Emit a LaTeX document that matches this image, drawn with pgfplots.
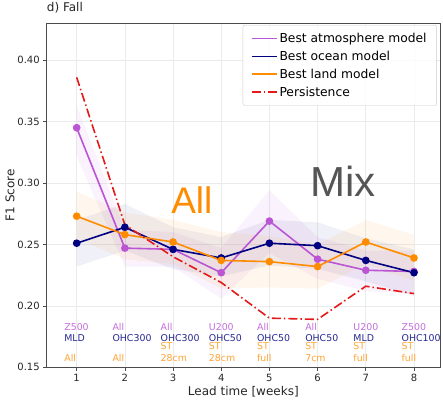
\documentclass[border=0pt]{standalone}
\usepackage{pgfplots}
\pgfplotsset{compat=1.18}
\usepackage{pgfplotstable}
\usepgfplotslibrary{fillbetween}
\usepackage{fontspec}
\setmainfont{DejaVu Sans}
\newfontfamily\bigfont{Liberation Sans}
\definecolor{atm}{RGB}{186,85,211}
\definecolor{oce}{RGB}{0,0,128}
\definecolor{lnd}{RGB}{255,140,0}
\definecolor{pers}{RGB}{230,25,25}
\definecolor{mixgray}{RGB}{85,85,85}
\tikzset{lab/.style={anchor=base west, inner sep=0pt, font=\fontsize{9.4bp}{11bp}\selectfont}}

\pgfplotstableread{
x atm atmlo atmhi oce ocelo ocehi lnd lndlo lndhi pers
1 0.345 0.322 0.363 0.251 0.232 0.270 0.273 0.255 0.293 0.386
2 0.247 0.232 0.262 0.264 0.245 0.283 0.258 0.238 0.276 0.266
3 0.246 0.232 0.260 0.246 0.230 0.264 0.252 0.234 0.270 0.240
4 0.227 0.206 0.247 0.239 0.224 0.256 0.237 0.214 0.260 0.219
5 0.269 0.243 0.294 0.251 0.233 0.270 0.236 0.215 0.257 0.190
6 0.238 0.222 0.256 0.249 0.230 0.268 0.232 0.214 0.250 0.189
7 0.229 0.212 0.245 0.237 0.220 0.255 0.252 0.234 0.270 0.216
8 0.228 0.210 0.245 0.227 0.208 0.246 0.239 0.220 0.258 0.210
}\data

\begin{document}
\begin{tikzpicture}
\begin{axis}[
  scale only axis, width=393.3bp, height=344bp,
  xmin=0.378, xmax=8.54, ymin=0.15, ymax=0.43,
  xtick={1,2,3,4,5,6,7,8},
  ytick={0.15,0.2,0.25,0.3,0.35,0.4},
  yticklabel style={/pgf/number format/.cd, fixed, fixed zerofill, precision=2},
  /pgf/number format/assume math mode=true,
  tick label style={font=\fontsize{10bp}{12bp}\selectfont, text=black!85},
  xtick pos=lower, ytick pos=left,
  tick align=outside, major tick length=3.5bp,
  tick style={black!70, line width=0.6bp},
  axis line style={black!70, line width=0.6bp},
  grid=major, grid style={black!8, line width=0.6bp},
  xlabel={Lead time [weeks]},
  ylabel={F1 Score},
  label style={font=\fontsize{12bp}{14bp}\selectfont, text=black!85},
  xlabel style={at={(rel axis cs:0.5,0)}, anchor=base, inner sep=0pt, yshift=-28bp},
  ylabel style={at={([xshift=-32bp]rel axis cs:0,0.5)}, anchor=south, inner sep=0pt, rotate=0},
  title={d) Fall},
  title style={at={(rel axis cs:0,1)}, anchor=base west, inner sep=0pt, yshift=6.3bp, font=\fontsize{12bp}{14bp}\selectfont, text=black!85},
  legend style={at={(rel axis cs:0.992,0.995)}, anchor=north east,
    font=\fontsize{12.3bp}{14bp}\selectfont, draw=black!20, rounded corners=2bp,
    fill=white, fill opacity=0.8, text opacity=1, inner xsep=8bp, inner ysep=6bp,
    row sep=3bp, cells={anchor=west}},
  legend image code/.code={\draw[#1] (0bp,0bp) -- (25bp,0bp);},
  clip=false,
]
% bands
\addplot[name path=atmhi, draw=none, forget plot] table[x=x,y=atmhi]{\data};
\addplot[name path=atmlo, draw=none, forget plot] table[x=x,y=atmlo]{\data};
\addplot[atm, fill opacity=0.08, draw=none, forget plot] fill between[of=atmhi and atmlo];
\addplot[name path=ocehi, draw=none, forget plot] table[x=x,y=ocehi]{\data};
\addplot[name path=ocelo, draw=none, forget plot] table[x=x,y=ocelo]{\data};
\addplot[oce, fill opacity=0.06, draw=none, forget plot] fill between[of=ocehi and ocelo];
\addplot[name path=lndhi, draw=none, forget plot] table[x=x,y=lndhi]{\data};
\addplot[name path=lndlo, draw=none, forget plot] table[x=x,y=lndlo]{\data};
\addplot[lnd, fill opacity=0.07, draw=none, forget plot] fill between[of=lndhi and lndlo];
% lines
\addplot[atm, line width=1.6bp, mark=*, mark size=3bp, mark options={solid}] table[x=x,y=atm]{\data};
\addlegendentry{Best atmosphere model}
\addplot[oce, line width=1.6bp, mark=*, mark size=3bp, mark options={solid}] table[x=x,y=oce]{\data};
\addlegendentry{Best ocean model}
\addplot[lnd, line width=1.6bp, mark=*, mark size=3bp, mark options={solid}] table[x=x,y=lnd]{\data};
\addlegendentry{Best land model}
\addplot[pers, line width=1.6bp, dash pattern=on 9bp off 3bp on 1.5bp off 3bp] table[x=x,y=pers]{\data};
\addlegendentry{Persistence}
% big labels
\node[anchor=base west, inner sep=0pt, text=lnd, font=\bigfont\fontsize{37bp}{40bp}\selectfont] at (axis cs:2.96,0.2751) {All};
\node[anchor=base west, inner sep=0pt, text=mixgray, font=\bigfont\fontsize{42bp}{45bp}\selectfont] at (axis cs:5.84,0.2894) {Mix};
% atmosphere labels
\node[lab, text=atm!85] at (axis cs:0.74,0.1801) {Z500};
\node[lab, text=atm!85] at (axis cs:1.74,0.1801) {All};
\node[lab, text=atm!85] at (axis cs:2.74,0.1801) {All};
\node[lab, text=atm!85] at (axis cs:3.74,0.1801) {U200};
\node[lab, text=atm!85] at (axis cs:4.74,0.1801) {All};
\node[lab, text=atm!85] at (axis cs:5.74,0.1801) {All};
\node[lab, text=atm!85] at (axis cs:6.74,0.1801) {U200};
\node[lab, text=atm!85] at (axis cs:7.74,0.1801) {Z500};
% ocean labels
\node[lab, text=oce!85] at (axis cs:0.74,0.1712) {MLD};
\node[lab, text=oce!85] at (axis cs:1.74,0.1712) {OHC300};
\node[lab, text=oce!85] at (axis cs:2.74,0.1712) {OHC300};
\node[lab, text=oce!85] at (axis cs:3.74,0.1712) {OHC50};
\node[lab, text=oce!85] at (axis cs:4.74,0.1712) {OHC50};
\node[lab, text=oce!85] at (axis cs:5.74,0.1712) {OHC50};
\node[lab, text=oce!85] at (axis cs:6.74,0.1712) {MLD};
\node[lab, text=oce!85] at (axis cs:7.74,0.1712) {OHC100};
% land labels
\node[lab, text=lnd!80] at (axis cs:0.74,0.1549) {All};
\node[lab, text=lnd!80] at (axis cs:1.74,0.1549) {All};
\node[lab, text=lnd!80] at (axis cs:2.74,0.1644) {ST};
\node[lab, text=lnd!80] at (axis cs:2.74,0.1549) {28cm};
\node[lab, text=lnd!80] at (axis cs:3.74,0.1644) {ST};
\node[lab, text=lnd!80] at (axis cs:3.74,0.1549) {28cm};
\node[lab, text=lnd!80] at (axis cs:4.74,0.1644) {ST};
\node[lab, text=lnd!80] at (axis cs:4.74,0.1549) {full};
\node[lab, text=lnd!80] at (axis cs:5.74,0.1644) {ST};
\node[lab, text=lnd!80] at (axis cs:5.74,0.1549) {7cm};
\node[lab, text=lnd!80] at (axis cs:6.74,0.1644) {ST};
\node[lab, text=lnd!80] at (axis cs:6.74,0.1549) {full};
\node[lab, text=lnd!80] at (axis cs:7.74,0.1644) {ST};
\node[lab, text=lnd!80] at (axis cs:7.74,0.1549) {full};
\end{axis}
\pgfresetboundingbox
\path[use as bounding box] ([shift={(-46.7bp,-34bp)}]current axis.south west) rectangle ([shift={(3bp,23.3bp)}]current axis.north east);
\end{tikzpicture}
\end{document}
